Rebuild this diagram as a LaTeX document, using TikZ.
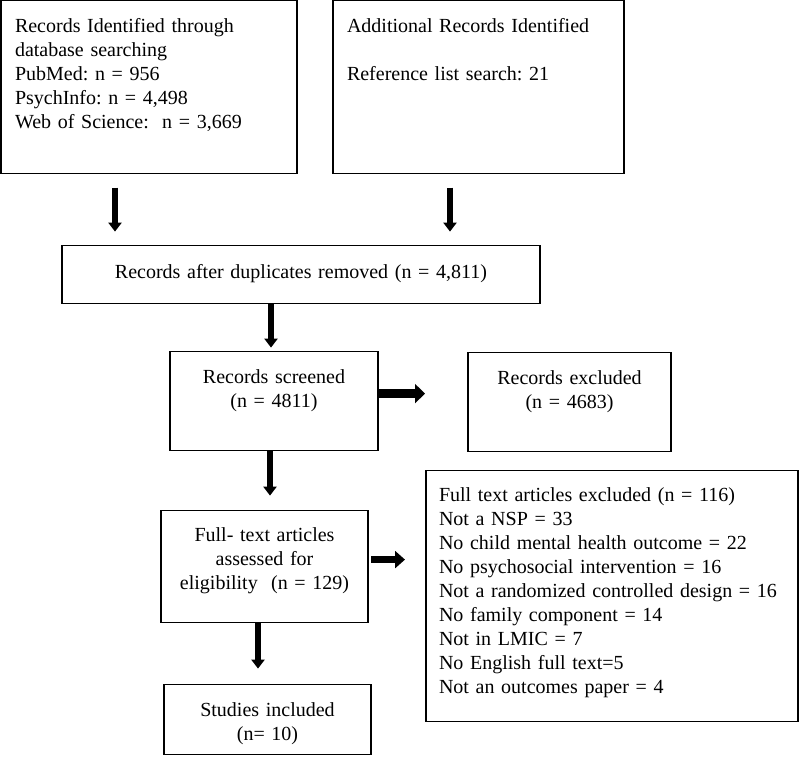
\documentclass[tikz,border=0pt]{standalone}
\usepackage{fontspec}
\setmainfont{Liberation Serif}
\frenchspacing
\usetikzlibrary{positioning, arrows.meta}

\begin{document}
\begin{tikzpicture}[
        box/.style={draw, line width=1.2pt, inner sep=0pt, outer sep=0pt, anchor=north west,
            font=\fontsize{20pt}{24pt}\selectfont},
        leftbox/.style={box, align=left},
        midbox/.style={box, align=center},
        arrow/.style={line width=6pt, -{Triangle[width=13pt,length=9pt]}},
        sidearrow/.style={line width=7.5pt, -{Triangle[width=17pt,length=10pt]}},
        bigarrow/.style={line width=9pt, -{Triangle[width=19pt,length=10pt]}}
    ]
    \useasboundingbox (0,0) rectangle (800pt,-756pt);

    % Identification
    \node (db) [leftbox, text width=268pt, minimum width=296pt, text height=31.5pt, text depth=141.5pt] at (1pt,-0.6pt)
        {Records Identified through\\database searching\\PubMed: n = 956\\PsychInfo: n = 4,498\\Web of Science:~~n = 3,669};

    \node (add) [leftbox, text width=263pt, minimum width=291pt, text height=31.5pt, text depth=141.5pt, right=36pt of db]
        {Additional Records Identified\\[24pt]Reference list search: 21};

    % Screening
    \node (dup) [midbox, text width=478pt, text height=33pt, text depth=25pt, below right=72pt and 61pt of db.south west]
        {Records after duplicates removed (n = 4,811)};

    \node (scr) [midbox, text width=208pt, text height=31.5pt, text depth=67.5pt, below right=48pt and 108pt of dup.south west]
        {Records screened\\(n = 4811)};

    \node (exc) [midbox, text width=203pt, text height=31.5pt, text depth=67.5pt, below right=1pt and 90pt of scr.north east]
        {Records excluded\\(n = 4683)};

    % Eligibility
    \node (ft) [midbox, text width=207pt, text height=30.5pt, text depth=81.5pt, below right=60pt and -9pt of scr.south west]
        {Full- text articles\\assessed for\\eligibility~ (n = 129)};

    \node (excl) [leftbox, text width=346pt, minimum width=372pt, text height=30.5pt, text depth=220.5pt, below right=19pt and -42pt of exc.south west]
        {Full text articles excluded (n = 116)\\Not a NSP = 33\\No child mental health outcome = 22\\No psychosocial intervention = 16\\Not a randomized controlled design = 16\\No family component = 14\\Not in LMIC = 7\\No English full text=5\\Not an outcomes paper = 4};

    % Included
    \node (st) [midbox, text width=207pt, text height=31.5pt, text depth=38pt, below right=62pt and 3pt of ft.south west]
        {Studies included\\(n= 10)};

    % Verbindungen
    \draw[arrow] ([xshift=-34pt, yshift=-14pt]db.south) -- ([xshift=-34pt, yshift=14pt]db.south |- dup.north);
    \draw[arrow] ([xshift=-28.5pt, yshift=-14pt]add.south) -- ([xshift=-28.5pt, yshift=14pt]add.south |- dup.north);
    \draw[arrow] ([xshift=-3pt]scr.north |- dup.south) -- ([xshift=-3pt, yshift=4pt]scr.north);
    \draw[bigarrow] ([yshift=7.5pt]scr.east) -- ([xshift=-43pt, yshift=7.5pt]scr.east -| exc.west);
    \draw[arrow] ([xshift=-4pt]scr.south) -- ([xshift=-4pt, yshift=15pt]scr.south |- ft.north);
    \draw[sidearrow] ([xshift=3pt, yshift=7pt]ft.east) -- ([xshift=-21pt, yshift=7pt]ft.east -| excl.west);
    \draw[arrow] ([xshift=-6.5pt]ft.south) -- ([xshift=-6.5pt, yshift=16pt]ft.south |- st.north);

\end{tikzpicture}
\end{document}
